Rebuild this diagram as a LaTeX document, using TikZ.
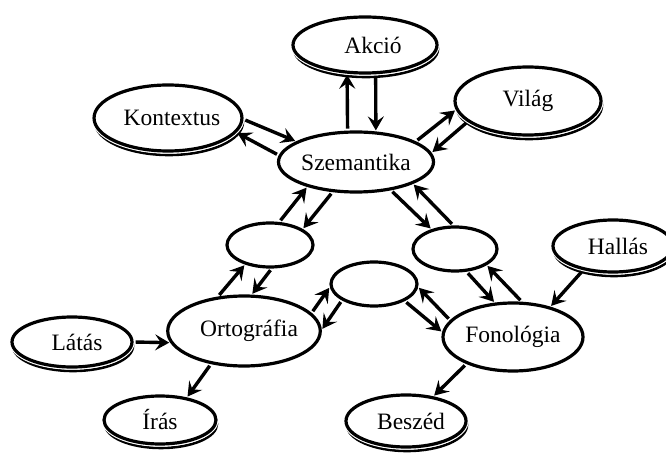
\documentclass[tikz,border=0pt]{standalone}
\usepackage{fontspec}
\setmainfont{Liberation Serif}
\usetikzlibrary{shapes.geometric,arrows.meta}
\tikzset{
  ell/.style={ellipse, draw, line width=3.2pt, fill=white, inner sep=0pt,
    font=\fontsize{23.5}{27}\selectfont},
  dbl/.style={ell,
    preaction={draw, line width=2.6pt, transform canvas={xshift=1pt,yshift=-4pt}},
    preaction={draw=white, line width=5.4pt}},
  arr/.style={line width=3.4pt, -{Stealth[length=14pt,width=16pt,inset=5.5pt]},
    shorten <=2pt, shorten >=1pt},
}
\newcommand{\tx}[2]{\hspace*{#1pt}#2}
\begin{document}
\begin{tikzpicture}[x=1pt,y=-1pt]
\useasboundingbox (0,0) rectangle (666,454);
% nodes
\node[dbl, minimum width=144pt, minimum height=56pt] (akc) at (365,45) {\tx{16}{Akció}};
\node[dbl, minimum width=138pt, minimum height=66pt] (kon) at (168,118) {\tx{8}{Kontextus}};
\node[ell, minimum width=152pt, minimum height=60pt] (szem) at (356,162) {Szemantika};
\node[dbl, minimum width=146pt, minimum height=68pt] (vil) at (528,101) {Világ};
\node[ell, minimum width=86pt, minimum height=44pt] (e1) at (270,245) {};
\node[ell, minimum width=86pt, minimum height=44pt] (e2) at (374,284) {};
\node[ell, minimum width=84pt, minimum height=44pt] (e3) at (455,249) {};
\node[dbl, minimum width=120pt, minimum height=52pt] (hal) at (613,246) {\tx{10}{Hallás}};
\node[ell, minimum width=140pt, minimum height=68pt] (fon) at (513,337) {Fonológia};
\node[ell, minimum width=138pt, minimum height=70pt] (ort) at (244,331) {\tx{10}{Ortográfia}};
\node[dbl, minimum width=120pt, minimum height=50pt] (lat) at (72,342) {\tx{10}{Látás}};
\node[dbl, minimum width=112pt, minimum height=48pt] (ira) at (160,420) {Írás};
\node[dbl, minimum width=120pt, minimum height=52pt] (bes) at (406,421) {\tx{10}{Beszéd}};
% connectors
\draw[arr] (szem.105) -- (akc.238);
\draw[arr] (akc.290) -- (szem.57);
\draw[arr] (kon.-1) -- (szem.161);
\draw[arr] (szem.175) -- (kon.-12);
\draw[arr] (szem.19) -- (vil.187);
\draw[arr] (vil.199) -- (szem.7);
\draw[arr] (e1.68) -- (szem.207);
\draw[arr] (szem.232) -- (e1.26);
\draw[arr] (ort.127) -- (e1.218);
\draw[arr] (e1.274) -- (ort.78);
\draw[arr] (ort.15) -- (e2.184);
\draw[arr] (e2.207) -- (ort.1);
\draw[arr] (e2.-29) -- (fon.176);
\draw[arr] (fon.165) -- (e2.-4);
\draw[arr] (szem.-39) -- (e3.140);
\draw[arr] (e3.94) -- (szem.-21);
\draw[arr] (e3.-63) -- (fon.118);
\draw[arr] (fon.76) -- (e3.-27);
\draw[arr] (hal.219) -- (fon.39);
\draw[arr] (lat.0) -- (ort.189);
\draw[arr] (ort.225) -- (ira.40);
\draw[arr] (fon.210) -- (bes.42);
\end{tikzpicture}
\end{document}
